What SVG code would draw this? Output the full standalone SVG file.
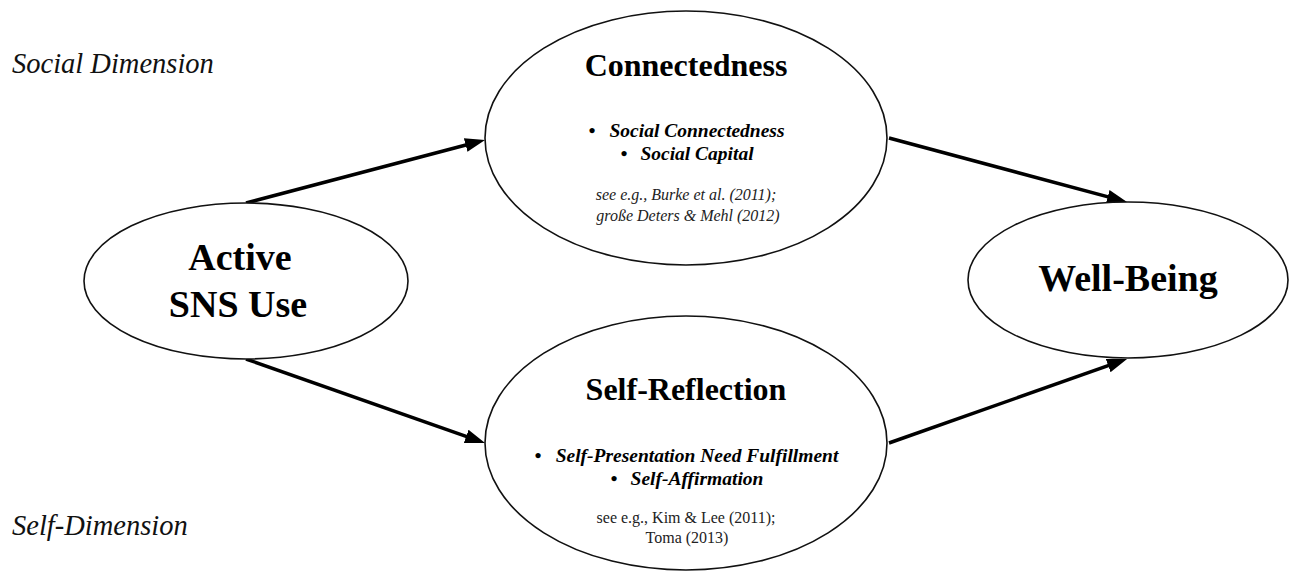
<svg xmlns="http://www.w3.org/2000/svg" width="1290" height="571" viewBox="0 0 1290 571">
  <style>
    .node { fill: #fff; stroke: #111; stroke-width: 1.6; }
    .edge { stroke: #000; stroke-width: 3.5; fill: none; marker-end: url(#arrow); }
    text { font-family: "Liberation Serif", "Times New Roman", serif; fill: #000; text-anchor: middle; }
    .title { font-weight: bold; font-size: 32px; }
    .big { font-weight: bold; font-size: 38px; }
    .item { font-weight: bold; font-style: italic; font-size: 19.5px; }
    .cite { font-size: 16px; fill: #222; }
    .cite-i { font-size: 16px; font-style: italic; fill: #222; }
    .dim { font-style: italic; font-size: 28.5px; text-anchor: start; fill: #111; }
  </style>
  <defs>
    <marker id="arrow" markerUnits="userSpaceOnUse" markerWidth="22" markerHeight="16" refX="12" refY="7" orient="auto">
      <path d="M0,0 L20,7 L0,14 Z" fill="#000"/>
    </marker>
  </defs>

  <!-- dimension labels -->
  <text class="dim" x="12" y="73">Social Dimension</text>
  <text class="dim" x="12" y="535">Self-Dimension</text>

  <!-- connectors -->
  <g id="connectors">
    <line class="edge" x1="246" y1="203" x2="477.3" y2="142"/>
    <line class="edge" x1="246" y1="359" x2="477.5" y2="440.3"/>
    <line class="edge" x1="889" y1="138" x2="1119.3" y2="199.9"/>
    <line class="edge" x1="889" y1="443" x2="1119.5" y2="361.7"/>
  </g>

  <g id="active-sns-use">
    <ellipse class="node" cx="246" cy="281" rx="162" ry="78"/>
    <text class="big" x="240" y="270">Active</text>
    <text class="big" x="238" y="317">SNS Use</text>
  </g>

  <g id="connectedness">
    <ellipse class="node" cx="686" cy="138" rx="201" ry="127"/>
    <text class="title" x="686" y="76">Connectedness</text>
    <text class="item" x="683" y="137"><tspan x="592" text-anchor="middle">•</tspan><tspan x="697">Social Connectedness</tspan></text>
    <text class="item" x="683" y="160"><tspan x="624" text-anchor="middle">•</tspan><tspan x="697">Social Capital</tspan></text>
    <text class="cite-i" x="686" y="200">see e.g., Burke et al. (2011);</text>
    <text class="cite-i" x="688" y="221">große Deters &amp; Mehl (2012)</text>
  </g>

  <g id="self-reflection">
    <ellipse class="node" cx="686" cy="443" rx="201" ry="127"/>
    <text class="title" x="686" y="400">Self-Reflection</text>
    <text class="item" y="462"><tspan x="538">•</tspan><tspan x="697">Self-Presentation Need Fulfillment</tspan></text>
    <text class="item" y="485"><tspan x="614">•</tspan><tspan x="697">Self-Affirmation</tspan></text>
    <text class="cite" x="686" y="523">see e.g., Kim &amp; Lee (2011);</text>
    <text class="cite" x="687" y="543">Toma (2013)</text>
  </g>

  <g id="well-being">
    <ellipse class="node" cx="1128" cy="280" rx="160" ry="78"/>
    <text class="big" x="1128" y="291">Well-Being</text>
  </g>
</svg>
